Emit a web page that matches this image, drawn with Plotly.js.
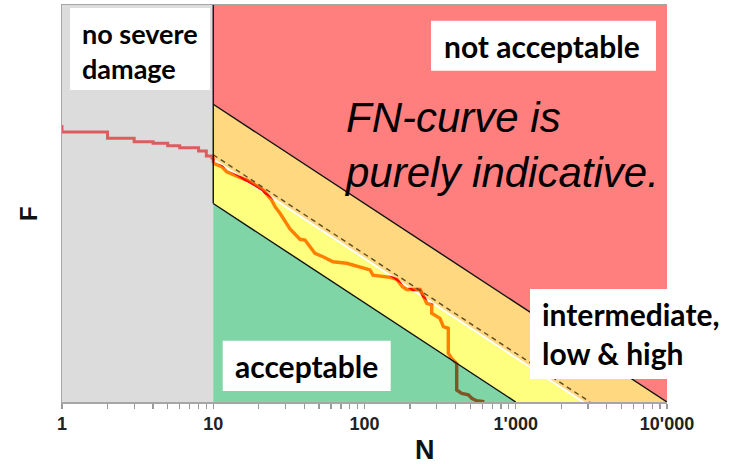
<!DOCTYPE html>
<html>
<head>
<meta charset="utf-8">
<script src="https://cdn.plot.ly/plotly-3.0.1.min.js"></script>
<style>html,body{margin:0;padding:0;background:#fff}#chart{width:733px;height:464px}</style>
</head>
<body>
<div id="chart"></div>
<script>
// ---------- data ----------
// FN curve, part in the "no severe damage" zone (steps)
const stepN = [1, 1, 2, 3, 4, 5, 6, 8, 9, 9.8, 10];
const stepF = [6.18e-6, 5.25e-6, 4.54e-6, 4.20e-6, 4.05e-6, 3.82e-6, 3.65e-6, 3.38e-6, 3.01e-6, 2.87e-6, 2.56e-6];
// FN curve, N >= 10
const curveN = [10, 10.27, 11.37, 12.27, 14.58, 16.64, 18.88, 21.33, 24.35, 25.61, 27.63, 29.82, 32.17,
  37.46, 40.43, 43.62, 47.07, 53.17, 61.9, 76.27, 93.38, 108.7, 113.8, 147.4, 163.3, 178.3, 190.1,
  232.8, 244.8, 257.8, 278.2, 278.2, 315.6, 331.9, 358.2, 358.2, 377.2, 407.1, 407.1, 439.3, 485.8,
  511.5, 551.9, 620];
const curveF = [2.56e-6, 2.50e-6, 2.35e-6, 2.09e-6, 1.86e-6, 1.72e-6, 1.54e-6, 1.37e-6, 1.08e-6, 9.29e-7, 7.97e-7, 6.56e-7, 5.53e-7,
  4.36e-7, 4.29e-7, 3.67e-7, 3.15e-7, 2.91e-7, 2.59e-7, 2.50e-7, 2.31e-7, 2.14e-7, 1.90e-7, 1.80e-7, 1.72e-7, 1.45e-7, 1.36e-7,
  1.36e-7, 1.17e-7, 9.87e-8, 9.49e-8, 7.83e-8, 6.97e-8, 5.74e-8, 5.53e-8, 3.10e-8, 2.75e-8, 2.45e-8, 1.32e-8, 1.22e-8, 1.18e-8,
  1.09e-8, 1.03e-8, 1.01e-8];

// zones (polygons)
const grayN = [1, 10, 10, 1];             const grayF = [1e-8, 1e-8, 1e-4, 1e-4];
const redN = [10, 10, 10000, 10000];      const redF = [1e-4, 1e-5, 1e-8, 1e-4];
const orangeN = [10, 10, 2870, 10000];    const orangeF = [1e-5, 2.87e-6, 1e-8, 1e-8];
const yellowN = [10, 10, 1000, 2720];     const yellowF = [2.72e-6, 1e-6, 1e-8, 1e-8];
const greenN = [10, 10, 1000];            const greenF = [1e-6, 1e-8, 1e-8];

// boundary lines
const upperN = [10, 10000];  const upperF = [1e-5, 1e-8];
const lowerN = [10, 1000];   const lowerF = [1e-6, 1e-8];
const vertN = [10, 10];      const vertF = [1e-4, 1e-6];
const dashN = [10, 3100];    const dashF = [3.1e-6, 1e-8];

// ticks
const tickVals = [1,2,3,4,5,6,7,8,9,10,20,30,40,50,60,70,80,90,100,200,300,400,500,600,700,800,900,
  1000,2000,3000,4000,5000,6000,7000,8000,9000,10000];
const majorVals = [1, 10, 100, 1000, 10000];
const majorText = ["1", "10", "100", "1'000", "10'000"];
const tickText = tickVals.map(v => { const i = majorVals.indexOf(v); return i >= 0 ? majorText[i] : ""; });

// ---------- traces ----------
function poly(x, y, color) {
  return {x, y, type: 'scatter', mode: 'lines', fill: 'toself', fillcolor: color,
    line: {width: 0}, hoverinfo: 'skip', showlegend: false};
}
function line(x, y, color, width, dash) {
  return {x, y, type: 'scatter', mode: 'lines', line: {color, width, dash: dash || 'solid'},
    hoverinfo: 'skip', showlegend: false};
}

const traces = [
  {x: stepN, y: stepF, type: 'scatter', mode: 'lines', line: {color: 'rgb(255,0,0)', width: 3, shape: 'hv'}, hoverinfo: 'skip', showlegend: false},
  line(curveN, curveF, 'rgb(255,0,0)', 3.4),
  poly(grayN, grayF, 'rgba(185,185,185,0.5)'),
  poly(redN, redF, 'rgba(255,0,0,0.5)'),
  poly(orangeN, orangeF, 'rgba(255,178,0,0.5)'),
  poly(yellowN, yellowF, 'rgba(255,255,0,0.5)'),
  poly(greenN, greenF, 'rgba(0,171,75,0.5)'),
  line(dashN, dashF, '#5c4c24', 1.4, '5px,4px'),
  line(upperN, upperF, '#111', 1.4),
  line(lowerN, lowerF, '#111', 1.4),
  line(vertN, vertF, '#111', 1.4)
];

// ---------- layout ----------
const boxFont = {family: 'Lato', size: 30, color: '#000', weight: 700};
const boxFontSmall = {family: 'Lato', size: 27, color: '#000', weight: 700};
function px(x) { return (x - 62) / 605; }
function py(y) { return (402 - y) / 397; }
function box(x0, y0, x1, y1) {
  return {type: 'rect', xref: 'paper', yref: 'paper', x0: px(x0), x1: px(x1), y0: py(y1), y1: py(y0),
    fillcolor: '#fff', line: {width: 0}, layer: 'above'};
}

const layout = {
  width: 733, height: 464,
  margin: {l: 62, r: 66, t: 5, b: 62},
  paper_bgcolor: '#fff', plot_bgcolor: '#fff',
  showlegend: false,
  xaxis: {
    type: 'log', range: [0, 4], tickmode: 'array', tickvals: tickVals, ticktext: tickText,
    ticks: 'outside', ticklen: 5, tickwidth: 1.2, tickcolor: '#9a9a9a',
    showline: true, linecolor: '#a6a6a6', linewidth: 1.5, mirror: true,
    showgrid: false, zeroline: false,
    tickfont: {family: 'Liberation Sans', size: 18, color: '#222', weight: 700}
  },
  yaxis: {
    type: 'log', range: [-8, -4], showticklabels: false, ticks: '',
    showline: true, linecolor: '#a6a6a6', linewidth: 1.5,
    showgrid: false, zeroline: false
  },
  shapes: [
    box(70, 8, 210, 90),
    box(431, 20.7, 656, 70.7),
    box(530, 289, 733, 379),
    box(222.7, 340.7, 390.7, 391)
  ],
  annotations: [
    {text: 'no severe<br>damage', xref: 'paper', yref: 'paper', x: px(80), y: py(51), xanchor: 'left', yanchor: 'middle', align: 'left', showarrow: false, font: boxFontSmall},
    {text: 'not acceptable', xref: 'paper', yref: 'paper', x: px(541.5), y: py(46), xanchor: 'center', yanchor: 'middle', showarrow: false, font: boxFont},
    {text: 'intermediate,<br>low & high', xref: 'paper', yref: 'paper', x: px(540), y: py(333), xanchor: 'left', yanchor: 'middle', align: 'left', showarrow: false, font: boxFont},
    {text: 'acceptable', xref: 'paper', yref: 'paper', x: px(306.5), y: py(366), xanchor: 'center', yanchor: 'middle', showarrow: false, font: boxFont},
    {text: 'FN-curve is<br>purely indicative.', xref: 'paper', yref: 'paper', x: px(342), y: py(145), xanchor: 'left', yanchor: 'middle', align: 'left', showarrow: false,
      font: {family: 'Liberation Sans', size: 42, color: '#000', style: 'italic'}},
    {text: 'N', xref: 'paper', yref: 'paper', x: px(425.5), y: py(450), xanchor: 'center', yanchor: 'middle', showarrow: false,
      font: {family: 'Liberation Sans', size: 27, color: '#111', weight: 700}},
    {text: 'F', xref: 'paper', yref: 'paper', x: px(28), y: py(214), xanchor: 'center', yanchor: 'middle', textangle: -90, showarrow: false,
      font: {family: 'Liberation Sans', size: 24, color: '#111', weight: 700}}
  ]
};

Plotly.newPlot('chart', traces, layout, {displayModeBar: false, staticPlot: true});
</script>
</body>
</html>
